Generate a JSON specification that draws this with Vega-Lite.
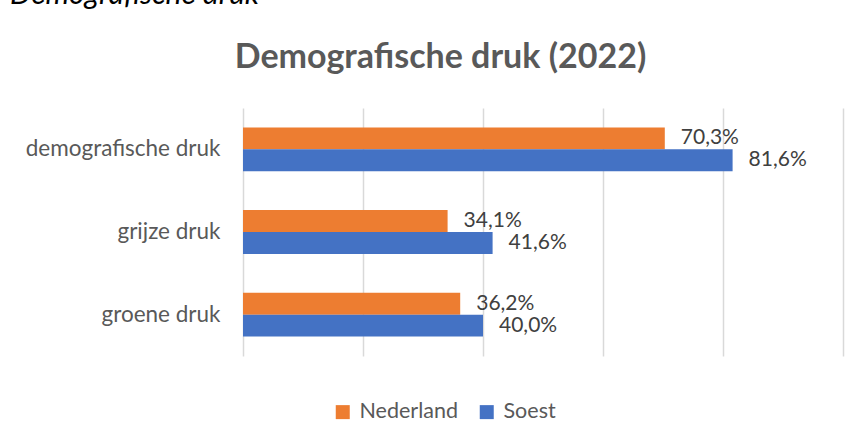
{
  "$schema": "https://vega.github.io/schema/vega-lite/v6.json",
  "width": 600,
  "height": 248,
  "autosize": {"type": "none"},
  "padding": {"left": 243, "top": 108, "right": 22, "bottom": 84},
  "background": "white",
  "config": {
    "locale": {"number": {"decimal": ",", "thousands": ".", "grouping": [3], "currency": ["€", ""]}},
    "view": {"stroke": null},
    "font": "Lato"
  },
  "title": {
    "text": "Demografische druk",
    "anchor": "start",
    "frame": "group",
    "dx": -233,
    "offset": 30,
    "font": "Lato",
    "fontSize": 30,
    "fontStyle": "italic",
    "fontWeight": "normal",
    "color": "#000000"
  },
  "data": {
    "values": [
      {"categorie": "demografische druk", "gebied": "Nederland", "waarde": 0.703},
      {"categorie": "demografische druk", "gebied": "Soest", "waarde": 0.816},
      {"categorie": "grijze druk", "gebied": "Nederland", "waarde": 0.341},
      {"categorie": "grijze druk", "gebied": "Soest", "waarde": 0.416},
      {"categorie": "groene druk", "gebied": "Nederland", "waarde": 0.362},
      {"categorie": "groene druk", "gebied": "Soest", "waarde": 0.400}
    ]
  },
  "encoding": {
    "y": {
      "field": "categorie",
      "type": "nominal",
      "sort": ["demografische druk", "grijze druk", "groene druk"],
      "scale": {"paddingInner": 0.47, "paddingOuter": 0.235},
      "axis": {
        "title": null,
        "ticks": false,
        "domain": false,
        "labelPadding": 23,
        "labelFont": "Lato",
        "labelFontSize": 22.5,
        "labelColor": "#595959",
        "labelLimit": 300
      }
    },
    "yOffset": {"field": "gebied", "type": "nominal", "sort": ["Nederland", "Soest"]},
    "x": {
      "field": "waarde",
      "type": "quantitative",
      "scale": {"domain": [0, 1], "nice": false},
      "axis": {
        "orient": "top",
        "values": [0, 0.2, 0.4, 0.6, 0.8, 1],
        "labels": false,
        "ticks": false,
        "domain": false,
        "grid": true,
        "gridColor": "#d9d9d9",
        "gridWidth": 1.5,
        "title": "Demografische druk (2022)",
        "titleX": 197,
        "titleY": -41,
        "titleAlign": "center",
        "titleBaseline": "alphabetic",
        "titleFont": "Lato",
        "titleFontSize": 34,
        "titleFontWeight": "bold",
        "titleColor": "#595959"
      }
    }
  },
  "layer": [
    {
      "mark": {"type": "bar"},
      "encoding": {
        "color": {
          "field": "gebied",
          "type": "nominal",
          "scale": {"domain": ["Nederland", "Soest"], "range": ["#ED7D31", "#4472C4"]},
          "legend": {
            "title": null,
            "orient": "none",
            "direction": "horizontal",
            "legendX": 89,
            "legendY": 293,
            "symbolType": "square",
            "symbolSize": 196,
            "symbolStrokeWidth": 0,
            "labelFont": "Lato",
            "labelFontSize": 21.5,
            "labelColor": "#595959",
            "labelOffset": 6,
            "columnPadding": 18
          }
        }
      }
    },
    {
      "mark": {"type": "text", "align": "left", "baseline": "middle", "dx": 16, "font": "Lato", "fontSize": 21, "color": "#404040"},
      "encoding": {
        "text": {"field": "waarde", "type": "quantitative", "format": ".1%"}
      }
    }
  ]
}
